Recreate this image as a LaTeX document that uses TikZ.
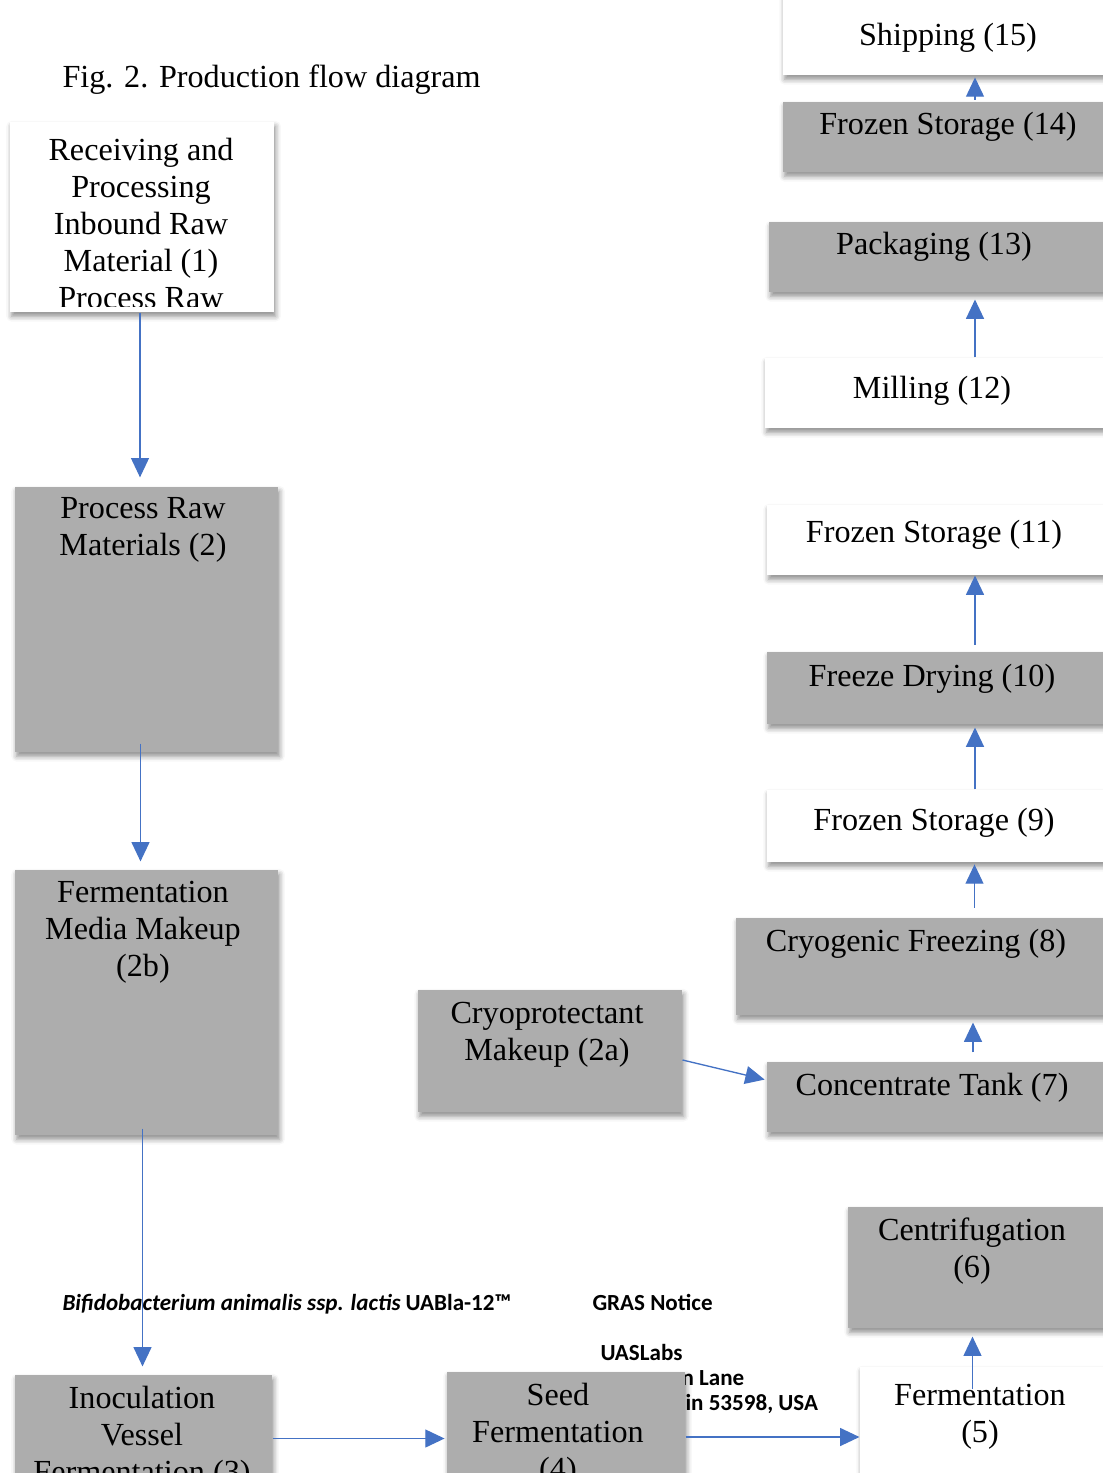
\documentclass[tikz,border=0pt]{standalone}
\usepackage{fontspec}
\setmainfont{Liberation Serif}
\newfontfamily\notefont{Carlito}
\usetikzlibrary{arrows.meta}
\usetikzlibrary{shadows,shadows.blur}
\usetikzlibrary{fit}
\usetikzlibrary{positioning}

\definecolor{boxgray}{RGB}{173,173,173}
\definecolor{flowblue}{RGB}{68,114,196}

\begin{document}
\begin{tikzpicture}[x=0.373pt, y=-0.373pt,
  stepbox/.style={inner sep=0pt, fill=boxgray,
    blur shadow={shadow xshift=0.6pt, shadow yshift=-1.6pt, shadow blur radius=2pt, shadow opacity=45}},
  whitebox/.style={stepbox, fill=white},
  steptext/.style={anchor=north, inner sep=0pt, align=center, font=\fontsize{12}{13.8}\selectfont},
  note/.style={anchor=base west, inner sep=0pt, font=\notefont\bfseries\fontsize{8.6}{10}\selectfont},
  flowline/.style={draw=flowblue, line width=0.5pt, -{Triangle[width=6.7pt,length=7.2pt]}}]
  \useasboundingbox (0,0) rectangle (1103,1473);
  \clip (0,0) rectangle (1103,1473);

  % Title and the notice header behind the boxes
  \node[steptext, anchor=north west] (title) at (62,64) {Fig. 2. Production flow diagram};
  \node[note] (n1) at (62,1310) {\itshape Bifidobacterium animalis ssp. lactis\upshape{} UABla-12™};
  \node[note] (n2) at (592,1310) {GRAS Notice};
  \node[note] (n3) at (600,1360) {UASLabs};
  \node[note] (n4) at (681,1385) {n Lane};
  \node[note] (n5) at (685,1410) {in 53598, USA};

  % Left column
  \node[whitebox, fit={(10,122) (274,312)}] (b1) {};
  \node[stepbox, fit={(15,487) (278,752)}] (b2) {};
  \node[stepbox, fit={(15,870) (278,1135)}] (b2b) {};
  \node[stepbox, fit={(15,1375) (272,1500)}] (b3) {};

  % Bottom row and middle
  \node[stepbox, fit={(447,1372) (685,1500)}] (b4) {};
  \node[whitebox, fit={(860,1367) (1115,1500)}] (b5) {};
  \node[stepbox, fit={(418,990) (682,1112)}] (b2a) {};

  % Right column
  \node[stepbox, fit={(848,1207) (1115,1328)}] (b6) {};
  \node[stepbox, fit={(767,1062) (1115,1132)}] (b7) {};
  \node[stepbox, fit={(736,918) (1115,1015)}] (b8) {};
  \node[whitebox, fit={(767,790) (1115,862)}] (b9) {};
  \node[stepbox, fit={(767,652) (1115,724)}] (b10) {};
  \node[whitebox, fit={(767,505) (1115,575)}] (b11) {};
  \node[whitebox, fit={(765,358) (1115,428)}] (b12) {};
  \node[stepbox, fit={(769,222) (1115,292)}] (b13) {};
  \node[stepbox, fit={(783,102) (1115,172)}] (b14) {};
  \node[whitebox, fit={(783,-20) (1115,75)}] (b15) {};

  % Texts
  \begin{scope}
    \clip (b1.north west) rectangle ([shift={(0,-6)}]b1.south east);
    \node[steptext] (t1) at (141,138) {Receiving and\\Processing\\Inbound Raw\\Material (1)\\Process Raw};
  \end{scope}
  \node[steptext] (t2) at (143,497) {Process Raw\\Materials (2)};
  \node[steptext] (t2b) at (143,881) {Fermentation\\Media Makeup\\(2b)};
  \node[steptext] (t3) at (142,1386) {Inoculation\\Vessel\\Fermentation (3)};
  \node[steptext] (t4) at (558,1383) {Seed\\Fermentation\\(4)};
  \node[steptext] (t5) at (980,1384) {Fermentation\\(5)};
  \node[steptext] (t6) at (972,1217) {Centrifugation\\(6)};
  \node[steptext] (t7) at (932,1073) {Concentrate Tank (7)};
  \node[steptext] (t2a) at (547,1002) {Cryoprotectant\\Makeup (2a)};
  \node[steptext] (t8) at (916,929) {Cryogenic Freezing (8)};
  \node[steptext] (t9) at (934,808) {Frozen Storage (9)};
  \node[steptext] (t10) at (932,664) {Freeze Drying (10)};
  \node[steptext] (t11) at (934,520) {Frozen Storage (11)};
  \node[steptext] (t12) at (932,376) {Milling (12)};
  \node[steptext] (t13) at (934,232) {Packaging (13)};
  \node[steptext] (t14) at (948,112) {Frozen Storage (14)};
  \node[steptext] (t15) at (948,23) {Shipping (15)};

  % Flow
  \draw[flowline, shorten >=3.4pt] ([shift={(-2,0)}]b1.south) -- ([shift={(-2,0)}]b1.south |- b2.north);
  \draw[flowline, shorten >=3pt] ([shift={(-6,-9)}]b2.south) -- ([shift={(-6,0)}]b2.south |- b2b.north);
  \draw[flowline, shorten >=3pt] ([shift={(-4,-7)}]b2b.south) -- ([shift={(-4,0)}]b2b.south |- b3.north);
  \draw[flowline, shorten >=0.7pt] ([shift={(0,1)}]b3.east) -- ([shift={(0,1)}]b3.east -| b4.west);
  \draw[flowline] ([shift={(0,1)}]b4.east) -- ([shift={(0,1)}]b4.east -| b5.west);
  \draw[flowline, shorten >=3pt] ([shift={(-15,23)}]b5.north) -- ([shift={(-15,0)}]b5.north |- b6.south);
  \draw[flowline, shorten <=3.4pt, shorten >=2.6pt] ([shift={(32,0)}]b7.north) -- ([shift={(32,0)}]b7.north |- b8.south);
  \draw[flowline, shorten >=0.7pt] ([shift={(0,9)}]b2a.east) -- ([shift={(0,-17)}]b7.west);
  \draw[flowline, shorten <=3.7pt, shorten >=0.7pt] ([shift={(49,0)}]b8.north) -- ([shift={(49,0)}]b8.north |- b9.south);
  \draw[flowline, shorten >=1.1pt] ([shift={(34,0)}]b9.north) -- ([shift={(34,0)}]b9.north |- b10.south);
  \draw[flowline, shorten <=2.6pt] ([shift={(34,0)}]b10.north) -- ([shift={(34,0)}]b10.north |- b11.south);
  \draw[flowline, shorten >=2.6pt] ([shift={(35,0)}]b12.north) -- ([shift={(35,0)}]b12.north |- b13.south);
  \draw[flowline, shorten <=0.7pt, shorten >=0.7pt] ([shift={(26,0)}]b14.north) -- ([shift={(26,0)}]b14.north |- b15.south);
\end{tikzpicture}
\end{document}
